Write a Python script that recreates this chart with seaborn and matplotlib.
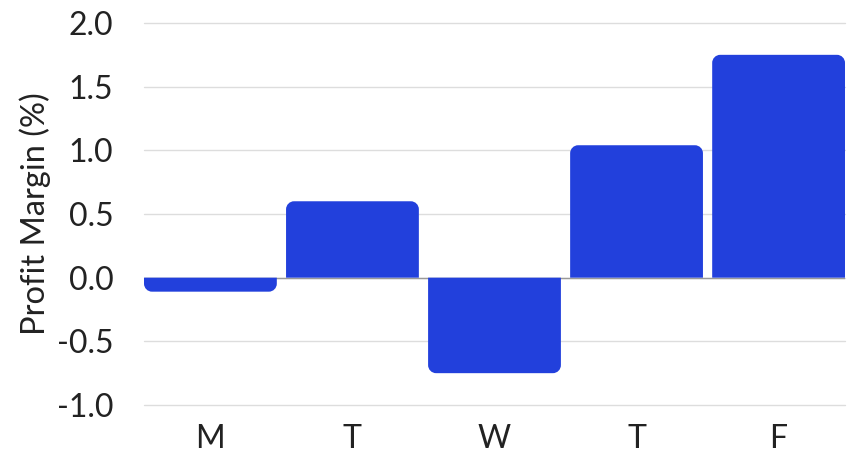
import matplotlib
matplotlib.use("Agg")
import matplotlib.pyplot as plt
import seaborn as sns
import numpy as np
import pandas as pd
from matplotlib.path import Path
from matplotlib.patches import PathPatch

days = ["M", "T", "W", "T", "F"]
margins = [-0.11, 0.60, -0.75, 1.04, 1.75]
yticks = [-1.0, -0.5, 0.0, 0.5, 1.0, 1.5, 2.0]

sns.set_theme(style="white")
plt.rcParams['font.family'] = ['Lato', 'DejaVu Sans']

fig = plt.figure(figsize=(8.57, 4.57), dpi=100)
ax = fig.add_axes([144/857, 1-405/457, (845-144)/857, (405-23)/457])

df = pd.DataFrame({"pos": np.arange(len(days)), "margin": margins})
color = "#2240DC"
sns.barplot(data=df, x="pos", y="margin", color=color, width=0.935,
            saturation=1, ax=ax, zorder=3)

ax.set_xlim(-0.4675, len(days) - 1 + 0.4675)
ax.set_ylim(-1.0, 2.0)

# round the outer corners of each bar
fig.canvas.draw()
px_per_x = ax.bbox.width / (ax.get_xlim()[1] - ax.get_xlim()[0])
px_per_y = ax.bbox.height / (ax.get_ylim()[1] - ax.get_ylim()[0])
rpx = 8
for p in list(ax.patches):
    x0 = p.get_x(); w = p.get_width(); h = p.get_height(); y0 = p.get_y()
    x1 = x0 + w
    rx = rpx / px_per_x
    ry = min(rpx / px_per_y, abs(h))
    base = y0
    top = y0 + h
    s = 1 if h >= 0 else -1
    k = 0.5523
    verts = [(x0, base), (x0, top - s*ry),
             (x0, top - s*ry + s*k*ry), (x0 + rx - k*rx, top), (x0 + rx, top),
             (x1 - rx, top),
             (x1 - rx + k*rx, top), (x1, top - s*ry + s*k*ry), (x1, top - s*ry),
             (x1, base), (x0, base)]
    codes = [Path.MOVETO, Path.LINETO,
             Path.CURVE4, Path.CURVE4, Path.CURVE4,
             Path.LINETO,
             Path.CURVE4, Path.CURVE4, Path.CURVE4,
             Path.LINETO, Path.CLOSEPOLY]
    pp = PathPatch(Path(verts, codes), facecolor=color, edgecolor="none", zorder=3)
    ax.add_patch(pp)
    p.remove()

ax.set_yticks(yticks)
ax.set_yticklabels([f"{v:.1f}" for v in yticks])
ax.set_xticks(np.arange(len(days)))
ax.set_xticklabels(days)
ax.yaxis.grid(True, color="#dddddd", linewidth=1, zorder=0)
for gl in ax.get_ygridlines():
    gl.set_clip_on(False)
ax.axhline(0, color="#999999", linewidth=1, zorder=2)
for s in ax.spines.values():
    s.set_visible(False)
ax.tick_params(axis="both", length=0, colors="#222222")
ax.tick_params(axis="y", labelsize=23, pad=22)
ax.tick_params(axis="x", labelsize=23, pad=14)
ax.set_xlabel("")
ax.set_ylabel("Profit Margin (%)", fontsize=23.5, color="#222222", labelpad=4)

fig.savefig("out.png", dpi=100)
